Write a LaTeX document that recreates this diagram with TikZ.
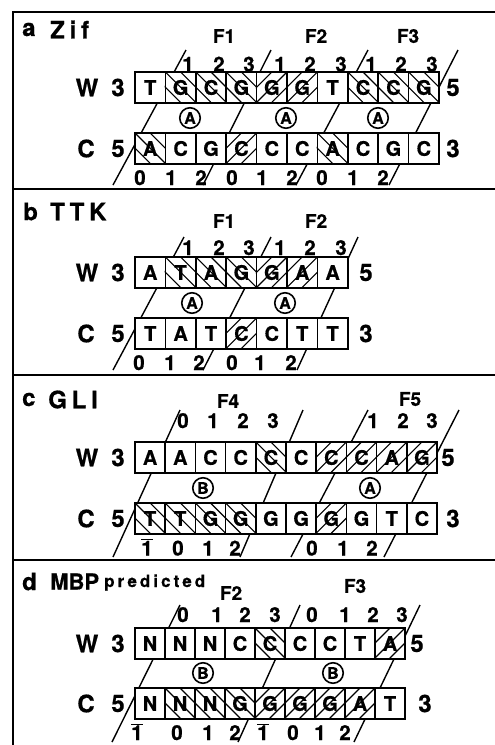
\documentclass[tikz,border=0pt]{standalone}
\usepackage{fontspec}
\setmainfont{TeX Gyre Heros}[BoldFeatures={FakeBold=0.6}]
\newfontfamily\spaced{TeX Gyre Heros}[LetterSpace=20,BoldFeatures={FakeBold=0.6}]
\newfontfamily\spacedp{TeX Gyre Heros}[LetterSpace=18,BoldFeatures={FakeBold=0.6}]
\newcommand\ob[1]{\ensuremath{\overline{\mbox{#1}}}}
\tikzset{
  nbox/.style={draw, fill=white, line width=1.5pt, minimum height=31pt, inner sep=0pt,
    font=\fontsize{20}{20}\selectfont\bfseries},
  hatchl/.style={line width=1.1pt},
  fline/.style={line width=1.4pt},
  lab/.style={font=\fontsize{24}{24}\selectfont\bfseries, inner sep=0pt},
  dig/.style={font=\fontsize{20.5}{20.5}\selectfont\bfseries, inner sep=0pt, anchor=base},
  flab/.style={font=\fontsize{19}{19}\selectfont\bfseries, inner sep=0pt},
  circ/.style={draw, circle, line width=1.6pt, minimum size=20.5pt, inner sep=0pt,
    font=\fontsize{16}{16}\selectfont\bfseries},
  ttl/.style={font=\fontsize{24}{24}\selectfont\bfseries, inner sep=0pt, anchor=west},
  frame/.style={line width=1.6pt},
  sep/.style={line width=1.2pt}
}
% row of boxes: prefix, x0, ytop, width, list letter/hatch (0 none, 1 "\", 2 "/")
\newcommand\drow[5]{%
  \foreach \L/\H [count=\i from 0] in {#5}{%
    \pgfmathsetmacro\cx{#2+(\i+0.5)*#4}%
    \node[nbox, minimum width=#4pt] (#1\i) at (\cx,#3+15.5) {\L};%
    \ifnum\H=1\relax
      \begin{scope}
        \clip (#1\i.south west) rectangle (#1\i.north east);
        \foreach \d in {-0.5,0,0.5}{\draw[hatchl] ([xshift={\d*#4}]#1\i.north west) -- ++(31,31);}
      \end{scope}
    \fi
    \ifnum\H=2\relax
      \begin{scope}
        \clip (#1\i.south west) rectangle (#1\i.north east);
        \foreach \d in {-0.5,0,0.5}{\draw[hatchl] ([xshift={\d*#4}]#1\i.north east) -- ++(-31,31);}
      \end{scope}
    \fi
  }%
}
% digits: prefix, baseline y, list text/x
\newcommand\digs[3]{%
  \foreach \t/\xx [count=\i] in {#3}{\node[dig] (#1\i) at (\xx,#2) {\t};}%
}
% finger line: name, bottom, top
\newcommand\fing[3]{%
  \coordinate (#1b) at (#2); \coordinate (#1t) at (#3);
  \draw[fline] (#1b) -- (#1t);%
}
\begin{document}
\begin{tikzpicture}[x=1pt,y=-1pt]
\useasboundingbox (0,0) rectangle (495,745);
\fill[white] (0,0) rectangle (495,745);
% frame
\coordinate (fr1) at (495,12); \coordinate (fr2) at (13,12); \coordinate (fr3) at (13,745);
\draw[frame] (fr1) -- (fr2) -- (fr3);
\foreach \yy [count=\k] in {189,375,560}{
  \coordinate (sl\k) at (13,\yy); \coordinate (sr\k) at (495,\yy);
  \draw[sep] (sl\k) -- (sr\k);
}

% ================= panel a =================
\node[ttl] (ta) at (22,29.5) {a};
\node[ttl] (tza) at (50,29.5) {\spaced Zif};
\node[flab] (aF1) at (224,36) {F1};
\node[flab] (aF2) at (316,36) {F2};
\node[flab] (aF3) at (408,36) {F3};
\fing{aL1}{113,185}{186,50}
\fing{aL2}{203,185}{271,50}
\fing{aL3}{296,185}{368,50}
\fing{aL4}{389,185}{458,50}
\drow{aW}{135}{72}{30.4}{T/0,G/1,C/1,G/1,G/2,G/2,T/0,C/1,C/1,G/1}
\drow{aC}{135}{133}{30.4}{A/1,C/0,G/0,C/2,C/0,C/0,A/1,C/0,G/0,C/0}
\node[lab] (aWl) at (87,87.5) {W};
\node[lab] (aW3) at (118,87.5) {3};
\node[lab] (aW5) at (453,87.5) {5};
\node[lab] (aCl) at (86,148.5) {C};
\node[lab] (aC5) at (118,148.5) {5};
\node[lab] (aC3) at (453,148.5) {3};
\digs{aT}{71.5}{1/188,2/219,3/249,1/280,2/310,3/341,1/371,2/401,3/432}
\digs{aB}{185}{0/140,1/171,2/201,0/232,1/262,2/292,0/322,1/353,2/383}
\node[circ] (aA1) at (190,118) {A};
\node[circ] (aA2) at (286,118) {A};
\node[circ] (aA3) at (378,118) {A};

% ================= panel b =================
\node[ttl] (tb) at (23,211.5) {b};
\node[ttl] (ttb) at (50,211.5) {\spaced TTK};
\node[flab] (bF1) at (224,221) {F1};
\node[flab] (bF2) at (316,221) {F2};
\fing{bL1}{113,370}{184,237}
\fing{bL2}{203,370}{271,237}
\fing{bL3}{297,370}{358,237}
\drow{bW}{135}{257}{30.4}{A/0,T/1,A/1,G/1,G/2,A/2,A/0}
\drow{bC}{135}{318}{30.4}{T/0,A/0,T/0,C/2,C/0,T/0,T/0}
\node[lab] (bWl) at (87,272.5) {W};
\node[lab] (bW3) at (118,272.5) {3};
\node[lab] (bW5) at (366,272.5) {5};
\node[lab] (bCl) at (86,333.5) {C};
\node[lab] (bC5) at (118,333.5) {5};
\node[lab] (bC3) at (366,333.5) {3};
\digs{bT}{255}{1/188,2/219,3/249,1/280,2/310,3/341}
\digs{bB}{370}{0/139,1/170,2/199,0/232,1/260,2/291}
\node[circ] (bA1) at (192,303) {A};
\node[circ] (bA2) at (285,303) {A};

% ================= panel c =================
\node[ttl] (tc) at (22,399.5) {c};
\node[ttl] (ttc) at (48,399.5) {\spaced GLI};
\node[flab] (cF4) at (228,401) {F4};
\node[flab] (cF5) at (410,399) {F5};
\fing{cL1}{113,557}{180,410}
\fing{cL2}{240,557}{303,410}
\fing{cL3}{291,557}{368,410}
\fing{cL4}{384,557}{459,410}
\drow{cW}{135}{442}{30.2}{A/0,A/0,C/0,C/0,C/1,C/0,C/2,C/2,A/2,G/2}
\drow{cC}{135}{503}{30.2}{T/1,T/1,G/1,G/1,G/0,G/0,G/2,G/0,T/0,C/0}
\node[lab] (cWl) at (87,457.5) {W};
\node[lab] (cW3) at (118,457.5) {3};
\node[lab] (cW5) at (448,457.5) {5};
\node[lab] (cCl) at (86,518.5) {C};
\node[lab] (cC5) at (118,518.5) {5};
\node[lab] (cC3) at (453,518.5) {3};
\digs{cT}{428}{0/183,1/213,2/243,3/273,1/373,2/403,3/432}
\digs{cB}{555.5}{\ob{1}/147,0/178,1/208,2/235,0/312,1/343,2/372}
\node[circ] (cB1) at (203,488) {B};
\node[circ] (cA1) at (370,488) {A};

% ================= panel d =================
\node[ttl] (td) at (22,581.5) {d};
\node[ttl, font=\fontsize{22}{22}\selectfont\bfseries] (ttd) at (50,581.5) {MBP};
\node[anchor=base west, inner sep=0pt, font=\fontsize{17}{17}\selectfont\bfseries\spacedp] (pred) at (104,587) {predicted};
\node[flab] (dF2) at (231,593) {F2};
\node[flab] (dF3) at (355,586) {F3};
\fing{dL1}{112,742}{180,605}
\fing{dL2}{238,742}{300,605}
\fing{dL3}{354,742}{420,605}
\drow{dW}{135}{628}{30}{N/0,N/0,N/0,C/0,C/1,C/0,C/0,T/0,A/2}
\drow{dC}{135}{688}{30}{N/0,N/1,N/1,G/1,G/2,G/2,G/2,A/2,T/0}
\node[lab] (dWl) at (87,643.5) {W};
\node[lab] (dW3) at (118,643.5) {3};
\node[lab] (dW5) at (417,643.5) {5};
\node[lab] (dCl) at (86,703.5) {C};
\node[lab] (dC5) at (118,703.5) {5};
\node[lab] (dC3) at (425,703.5) {3};
\digs{dT}{622}{0/183,1/217,2/245,3/275,0/312,1/345,2/373,3/402}
\digs{dB}{740}{\ob{1}/137,0/177,1/208,2/235,\ob{1}/263,0/293,1/320,2/345}
\node[circ] (dB1) at (203,673) {B};
\node[circ] (dB2) at (333,673) {B};
\end{tikzpicture}
\end{document}
